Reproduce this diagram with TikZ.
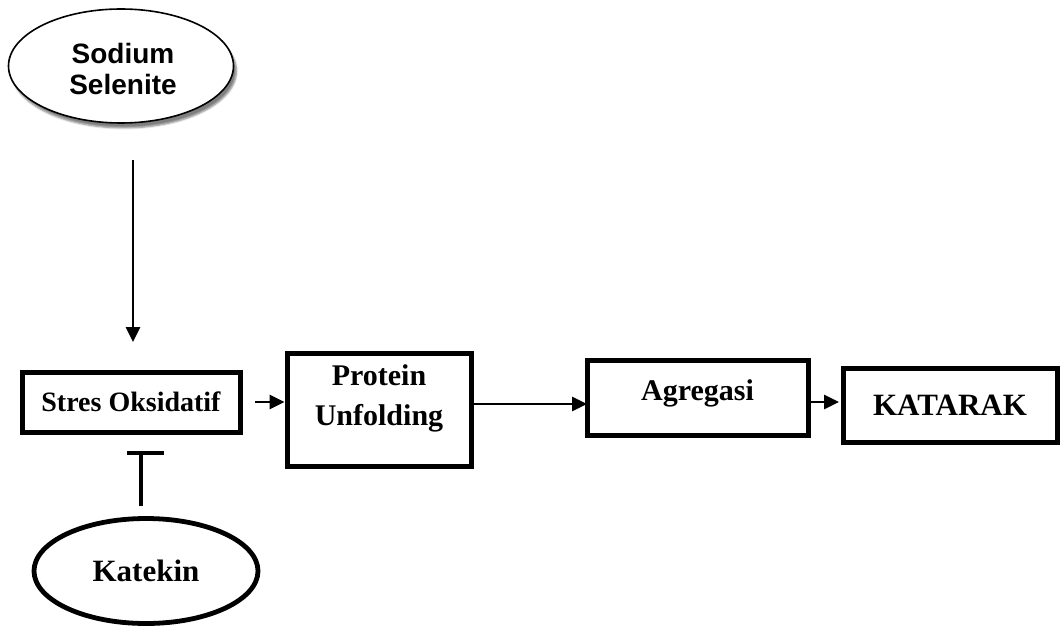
\documentclass[tikz,border=0pt]{standalone}
\usepackage{fontspec}
\setmainfont{Liberation Serif}
\newfontfamily\arialfont{Liberation Sans}
\usetikzlibrary{arrows.meta,shapes.geometric,shadows.blur}
\begin{document}
\begin{tikzpicture}[x=1pt,y=-1pt,
  stepbox/.style={draw,line width=5pt,inner sep=0pt,align=center,
    font=\bfseries\fontsize{30}{34}\selectfont},
  steptext/.style={align=center,inner sep=0pt,font=\bfseries\fontsize{30}{40}\selectfont},
  flow/.style={line width=2.6pt,-{Triangle[length=15pt,width=14pt]}},
  block/.style={line width=3.2pt}]
\useasboundingbox (0,0) rectangle (1062,628);

% sources
\node[ellipse,draw,line width=1.6pt,fill=white,minimum width=225pt,minimum height=114pt,
  blur shadow={shadow xshift=3pt,shadow yshift=-5pt,shadow blur steps=5,shadow opacity=50}]
  (sodium) at (121,66) {};
\node[align=center,inner sep=0pt,font=\arialfont\bfseries\fontsize{28}{31}\selectfont]
  (sodiumText) at (123,69) {Sodium\\Selenite};
\node[ellipse,draw,line width=4.8pt,minimum width=224pt,minimum height=105pt,
  font=\bfseries\fontsize{31}{34}\selectfont] (katekin) at (146,571) {Katekin};

% pathway boxes
\node[stepbox,minimum width=218pt,minimum height=60pt,font=\bfseries\fontsize{28}{32}\selectfont]
  (stres) at (131,402) {Stres Oksidatif};
\node[stepbox,minimum width=184pt,minimum height=113pt] (protein) at (379,409.5) {};
\node[steptext] (proteinText) at (379,398) {Protein\\Unfolding};
\node[stepbox,minimum width=221pt,minimum height=75pt] (agregasi) at (697.5,397.5) {};
\node[steptext] (agregasiText) at (697.5,393) {Agregasi};
\node[stepbox,minimum width=214pt,minimum height=74pt,font=\bfseries\fontsize{31}{34}\selectfont]
  (katarak) at (950,405) {KATARAK};

% free ends of the connectors
\coordinate (selTop) at (133,160);
\coordinate (selTip) at (133,342);
\coordinate (soStart) at (255,402);
\coordinate (puStart) at (471,404);
\coordinate (puEnd) at (587,404);
\coordinate (agTip) at (839,402);
\coordinate (inhBase) at (141,506);
\coordinate (inhBar) at (141,453);
\coordinate (barL) at (127,453);
\coordinate (barR) at (164,453);

% connectors
\draw[flow] (selTop) -- (selTip);
\draw[flow] (soStart) -- (protein.west |- soStart);
\draw[flow] (puStart) -- (puEnd);
\draw[flow] (agregasi.east |- agTip) -- (agTip);
\draw[block] (inhBase) -- (inhBar);
\draw[block] (barL) -- (barR);
\end{tikzpicture}
\end{document}
